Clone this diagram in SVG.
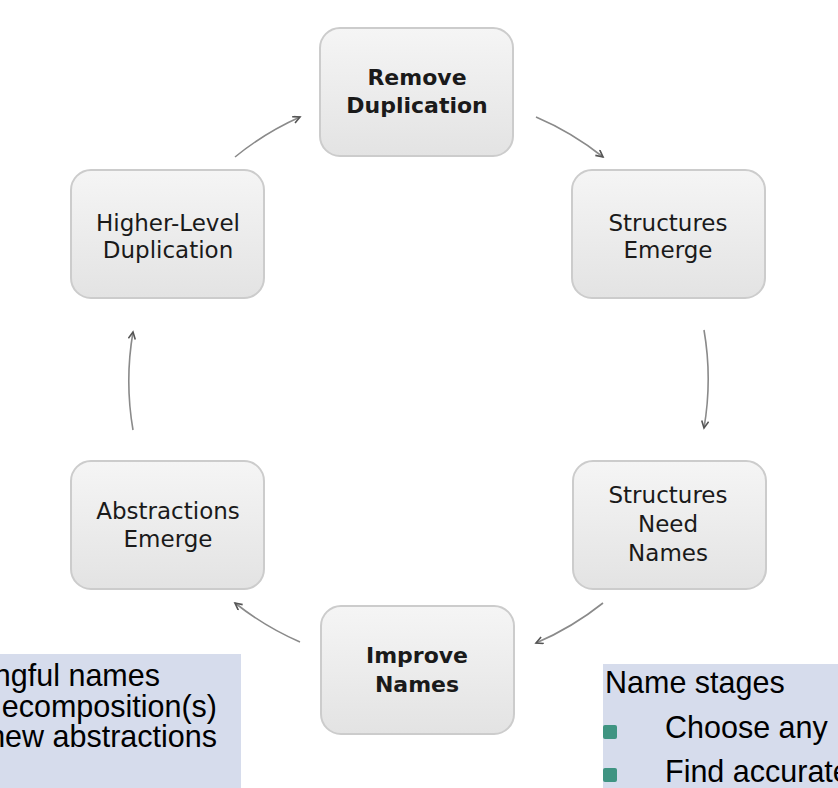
<svg xmlns="http://www.w3.org/2000/svg" width="838" height="788" viewBox="0 0 838 788">
<style>
.box{fill:url(#g);stroke:#cccccc;stroke-width:2}
.t{font-family:"DejaVu Sans",Verdana,sans-serif;font-size:23px;fill:#1a1a1a;text-anchor:middle}
.b{font-weight:bold;font-size:22px}
.c{fill:none;stroke:#8a8a8a;stroke-width:1.6;marker-end:url(#ah)}
.note{fill:#d6dcec}
.nt{font-family:"Liberation Sans",Arial,sans-serif;font-size:30.5px;fill:#000}
.bul{fill:#3f9482}
</style>
<defs>
<linearGradient id="g" x1="0" y1="0" x2="0" y2="1">
<stop offset="0" stop-color="#f5f5f5"/>
<stop offset="1" stop-color="#e3e3e3"/>
</linearGradient>
<marker id="ah" markerWidth="10" markerHeight="10" refX="8" refY="4" orient="auto" markerUnits="userSpaceOnUse">
<path d="M1,0.5 L8,4 L1,7.5" fill="none" stroke="#555" stroke-width="1.6"/>
</marker>
</defs>

<g id="connectors">
<path class="c" d="M235,157 A289,289 0 0 1 300,117"/>
<path class="c" d="M536,117 A289,289 0 0 1 603,157"/>
<path class="c" d="M704,330 A289,289 0 0 1 704,428"/>
<path class="c" d="M603,603 A289,289 0 0 1 536,643"/>
<path class="c" d="M300,642 A289,289 0 0 1 235,603"/>
<path class="c" d="M133,430 A289,289 0 0 1 133,332"/>
</g>

<g id="remove-duplication">
<rect class="box" x="320" y="28" width="193" height="128" rx="20"/>
<text class="t b" x="417" y="85">Remove</text>
<text class="t b" x="417" y="113">Duplication</text>
</g>

<g id="structures-emerge">
<rect class="box" x="572" y="170" width="193" height="128" rx="20"/>
<text class="t" x="668" y="231">Structures</text>
<text class="t" x="668" y="258">Emerge</text>
</g>

<g id="structures-need-names">
<rect class="box" x="573" y="461" width="193" height="128" rx="20"/>
<text class="t" x="668" y="503">Structures</text>
<text class="t" x="668" y="532">Need</text>
<text class="t" x="668" y="561">Names</text>
</g>

<g id="improve-names">
<rect class="box" x="321" y="606" width="193" height="128" rx="20"/>
<text class="t b" x="417" y="663">Improve</text>
<text class="t b" x="417" y="692">Names</text>
</g>

<g id="abstractions-emerge">
<rect class="box" x="71" y="461" width="193" height="128" rx="20"/>
<text class="t" x="168" y="519">Abstractions</text>
<text class="t" x="168" y="547">Emerge</text>
</g>

<g id="higher-level-duplication">
<rect class="box" x="71" y="170" width="193" height="128" rx="20"/>
<text class="t" x="168" y="231">Higher-Level</text>
<text class="t" x="168" y="258">Duplication</text>
</g>

<g id="note-left">
<rect class="note" x="0" y="654" width="241" height="134"/>
<text class="nt" x="160" y="686" text-anchor="end">ngful names</text>
<text class="nt" x="217" y="717" text-anchor="end">ecomposition(s)</text>
<text class="nt" x="217" y="747" text-anchor="end">new abstractions</text>
</g>

<g id="note-right">
<rect class="note" x="603" y="664" width="235" height="124"/>
<text class="nt" x="605" y="693">Name stages</text>
<rect class="bul" x="603" y="725" width="14" height="14" rx="2"/>
<text class="nt" x="665" y="738">Choose any</text>
<rect class="bul" x="603" y="768" width="14" height="14" rx="2"/>
<text class="nt" x="665" y="782">Find accurate</text>
</g>
</svg>
